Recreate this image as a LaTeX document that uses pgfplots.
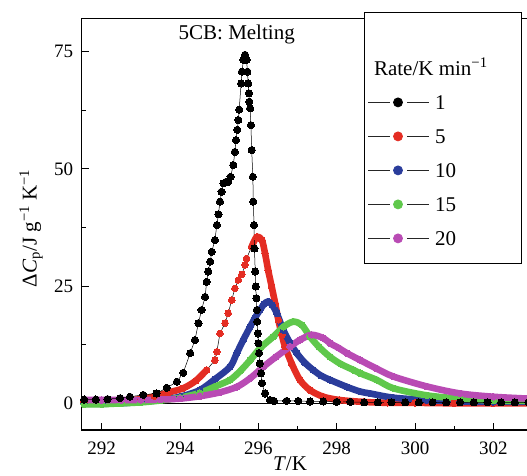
\documentclass[border=0pt]{standalone}
\usepackage{fontspec}
\setmainfont{Liberation Serif}
\usepackage{pgfplots}
\usepackage{pgfplotstable}
\pgfplotsset{compat=1.18}

\definecolor{c1}{RGB}{0,0,0}
\definecolor{c5}{RGB}{228,45,35}
\definecolor{c10}{RGB}{42,60,155}
\definecolor{c15}{RGB}{95,200,75}
\definecolor{c20}{RGB}{185,75,180}

\pgfplotsset{
  legimg/.style={legend image code/.code={
      \draw[black!85, line width=0.7pt] (0pt,0pt) -- (21.7pt,0pt) (39pt,0pt) -- (61pt,0pt);
      \fill[#1] (30pt,0pt) circle (4.5pt);}},
  band/.style={line width=6.6pt, line cap=round, line join=round, smooth, forget plot},
  thinline/.style={black, line width=0.5pt, mark=none, forget plot},
  dots/.style={only marks, mark=*, mark size=3.3pt, mark options={draw=#1, fill=#1, line width=0pt}, forget plot},
}

% rate 1 K/min
\pgfplotstableread{
T v
291.55 0.8
291.85 0.8
292.15 0.9
292.47 1.1
292.72 1.4
293.06 1.8
293.40 2.1
293.66 3.3
293.92 4.6
294.08 6.5
294.26 10.7
294.38 13.5
294.47 17.1
294.55 19.9
294.64 22.7
294.68 25.9
294.72 28.1
294.77 30.2
294.81 32.3
294.89 34.8
294.94 38.0
294.98 40.3
295.02 43.0
295.06 45.1
295.11 46.9
295.17 47.2
295.23 47.2
295.29 48.3
295.36 50.8
295.40 53.6
295.43 56.1
295.46 58.3
295.49 60.4
295.51 62.6
295.56 68.2
295.58 70.7
295.62 73.2
295.66 74.3
295.70 73.2
295.72 70.7
295.74 68.2
295.76 66.1
295.77 64.3
295.79 62.9
295.81 59.3
295.83 54.0
295.86 48.3
295.87 43.0
295.89 38.0
295.90 33.0
295.92 28.1
295.93 24.9
295.95 22.4
295.96 19.9
295.97 17.4
295.99 14.9
296.00 12.8
296.02 10.7
296.04 8.5
296.07 6.4
296.09 4.3
296.17 2.1
296.30 0.7
296.40 0.5
296.72 0.5
297.02 0.5
297.32 0.4
297.66 0.4
298.00 0.3
298.35 0.3
298.70 0.2
299.05 0.2
299.40 0.2
299.75 0.2
300.10 0.2
300.45 0.2
300.80 0.2
301.15 0.2
301.50 0.2
301.85 0.2
302.20 0.2
302.55 0.2
302.90 0.2
}\rateone

% rate 5 K/min
\pgfplotstableread{
T v
291.55 0.3
292.00 0.4
292.50 0.5
293.00 0.9
293.35 1.5
293.70 2.3
294.08 3.2
294.40 4.8
294.68 7.1
294.89 9.2
294.94 11.0
295.02 14.9
295.15 17.1
295.23 19.2
295.32 22.0
295.40 24.5
295.49 26.3
295.58 27.5
295.66 29.5
295.70 30.9
295.83 33.4
295.96 35.5
296.09 34.8
296.17 32.0
296.25 28.4
296.34 24.9
296.43 21.3
296.51 17.8
296.60 14.6
296.68 12.1
296.85 8.5
297.06 5.0
297.32 2.8
297.66 1.4
298.08 0.7
298.68 0.3
299.30 0.1
300.00 0.1
301.00 0.0
302.00 0.0
302.90 0.0
}\ratefive

% rate 10 K/min
\pgfplotstableread{
T v
291.55 -0.1
292.00 -0.1
292.50 0.0
293.00 0.3
293.50 0.7
294.00 1.4
294.50 2.8
294.90 5.2
295.28 7.8
295.45 10.7
295.62 13.6
295.79 16.3
295.92 18.3
296.04 19.9
296.15 21.2
296.25 21.7
296.36 20.9
296.47 19.2
296.64 15.6
296.80 13.0
296.98 10.7
297.18 8.7
297.40 7.1
297.60 5.9
297.83 5.0
298.26 3.5
298.60 2.5
298.85 2.1
299.45 1.2
300.30 0.7
301.15 0.4
302.00 0.3
302.90 0.3
}\rateten

% rate 15 K/min
\pgfplotstableread{
T v
291.55 -0.2
292.00 -0.2
292.50 0.0
293.00 0.2
293.50 0.6
294.00 1.2
294.50 2.2
294.90 3.6
295.28 5.0
295.55 7.0
295.79 9.2
296.05 11.8
296.38 14.2
296.64 16.3
296.89 17.4
297.11 16.7
297.32 14.2
297.55 12.0
297.83 9.9
298.10 8.4
298.43 7.1
298.60 6.4
299.02 5.0
299.45 3.2
300.30 1.7
301.15 1.0
302.00 0.6
302.90 0.5
}\ratefifteen

% rate 20 K/min
\pgfplotstableread{
T v
291.55 0.7
292.00 0.7
292.50 0.7
293.00 0.7
293.50 0.8
294.00 1.0
294.50 1.5
295.00 2.3
295.45 3.5
295.80 5.4
296.13 7.8
296.45 9.9
296.81 12.1
297.06 13.5
297.36 14.6
297.66 13.9
297.83 12.8
298.05 11.8
298.26 10.7
298.60 9.2
299.02 7.4
299.45 5.7
300.30 3.6
301.15 2.1
302.00 1.4
302.90 1.0
}\ratetwenty

\begin{document}
\begin{tikzpicture}
\path[use as bounding box] (-81.7pt,-45pt) rectangle (445.3pt,430pt);
\begin{axis}[
    scale only axis,
    width=452pt, height=411.7pt,
    at={(0pt,0pt)}, anchor=south west,
    xmin=291.489, xmax=303.031,
    ymin=-5.69, ymax=82.08,
    xtick={292,294,...,302},
    ytick={0,25,50,75},
    minor x tick num=1,
    minor y tick num=1,
    tick align=inside,
    xtick pos=left, ytick pos=left,
    major tick length=7pt, minor tick length=4pt,
    every tick/.style={black, line width=0.9pt},
    axis line style={line width=1.1pt},
    /pgf/number format/assume math mode=true,
    tick label style={font=\fontsize{19}{22}\selectfont},
    xticklabel style={inner sep=0pt, yshift=-11.7pt},
    yticklabel style={inner sep=0pt, xshift=-8.4pt},
    every axis x label/.style={at={(axis description cs:0.4608,-0.0985)}, anchor=base},
    every axis y label/.style={at={(axis description cs:-0.112,0.49)}, rotate=90, anchor=center},
    label style={font=\fontsize{21}{24}\selectfont},
    xlabel={\textit{T}/K},
    ylabel={Δ\textit{C}\textsubscript{p}/J g\textsuperscript{−1} K\textsuperscript{−1}},
    legend cell align=left,
    legend style={at={(axis description cs:0.97345,1.01603)}, anchor=north east,
      draw=black, line width=0.8pt, fill=white,
      inner xsep=3.3pt, inner ysep=8.3pt,
      font=\fontsize{21}{24}\selectfont,
      column sep=5.7pt, row sep=0pt,
      nodes={inner sep=0pt, text height=24pt, text depth=10pt}},
]
\addplot[black, line width=1.1pt, forget plot] coordinates {(291,0) (304,0)};

% rate 5
\addplot[thinline] table[x=T, y=v] {\ratefive};
\addplot[c5, band, restrict x to domain=291:294.75] table[x=T, y=v] {\ratefive};
\addplot[c5, band, restrict x to domain=295.8:304] table[x=T, y=v] {\ratefive};
\addplot[dots=c5] table[x=T, y=v] {\ratefive};

% rate 10
\addplot[c10, band] table[x=T, y=v] {\rateten};
\addplot[dots=c10] table[x=T, y=v] {\rateten};

% rate 15
\addplot[c15, band] table[x=T, y=v] {\ratefifteen};
\addplot[dots=c15] table[x=T, y=v] {\ratefifteen};

% rate 20
\addplot[c20, band] table[x=T, y=v] {\ratetwenty};
\addplot[dots=c20] table[x=T, y=v] {\ratetwenty};

% rate 1
\addplot[black, line width=0.5pt, mark=*, mark size=3.6pt,
  mark options={draw=black, fill=black, line width=0pt}, forget plot]
  table[x=T, y=v] {\rateone};

\node[anchor=base, font=\fontsize{21}{24}\selectfont] at (axis cs:295.447,77.46) {5CB: Melting};

\addlegendimage{empty legend}
\addlegendentry[text height=55pt]{\hspace*{-61pt}Rate/K min\textsuperscript{−1}\hspace*{30.4pt}}
\addlegendimage{legimg=c1}
\addlegendentry{1}
\addlegendimage{legimg=c5}
\addlegendentry{5}
\addlegendimage{legimg=c10}
\addlegendentry{10}
\addlegendimage{legimg=c15}
\addlegendentry{15}
\addlegendimage{legimg=c20}
\addlegendentry{20}
\end{axis}
\end{tikzpicture}
\end{document}
